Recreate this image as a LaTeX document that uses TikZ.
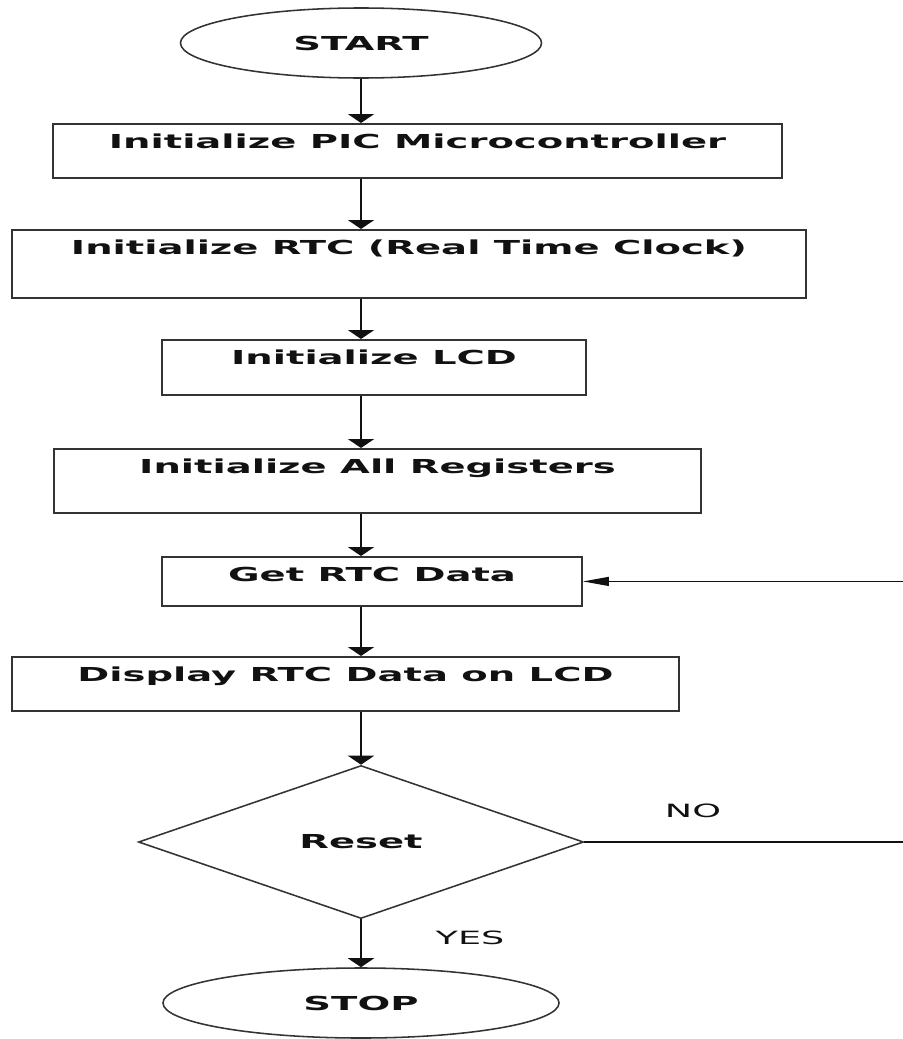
\documentclass[tikz,border=0pt]{standalone}
\usepackage{fontspec}
\usepackage{tikz}
\usetikzlibrary{arrows.meta,shapes.geometric,calc}
\newfontfamily\flowfont[FakeStretch=2.0]{DejaVu Sans}
\definecolor{ink}{HTML}{111111}
\definecolor{frame}{HTML}{333333}

\begin{document}
\begin{tikzpicture}[x=0.025cm, y=-0.025cm,
  every node/.style={font=\flowfont\fontsize{13.7pt}{16pt}\selectfont\bfseries, text=ink},
  stepbox/.style={draw=frame, line width=1.3pt, rectangle, inner sep=0pt, anchor=north, text height=0.625cm},
  terminal/.style={draw=frame, line width=1.1pt, ellipse, inner sep=0pt, minimum height=1.75cm},
  decision/.style={draw=frame, line width=1.1pt, diamond, aspect=2.9, inner sep=0pt, minimum width=11.125cm, minimum height=3.825cm},
  answer/.style={font=\flowfont\fontsize{13pt}{15pt}\selectfont},
  down/.style={draw=ink, line width=1.6pt, -{Triangle[length=6.4pt, width=18.5pt]}},
  back/.style={draw=ink, line width=0.9pt, -{Triangle[length=18.5pt, width=6.4pt]}}]
\useasboundingbox (0,0) rectangle (902,1039);
\node[terminal, minimum width=9.025cm] (start) at (361,43) {START};
\node[stepbox, minimum width=18.225cm, text depth=0.725cm] (initpic) at (417.5,123) {Initialize PIC Microcontroller};
\node[stepbox, minimum width=19.85cm, text depth=1.075cm] (initrtc) at (409,229) {Initialize RTC (Real Time Clock)};
\node[stepbox, minimum width=10.6cm, text depth=0.75cm] (initlcd) at (374,339) {Initialize LCD};
\node[stepbox, minimum width=16.175cm, text depth=0.975cm] (initreg) at (377.5,448) {Initialize All Registers};
\node[stepbox, minimum width=10.5cm, text depth=0.6cm] (getrtc) at (372,556) {Get RTC Data};
\node[stepbox, minimum width=16.675cm, text depth=0.725cm] (showrtc) at (345.5,656) {Display RTC Data on LCD};
\node[decision] (reset) at (361,842) {Reset};
\node[terminal, minimum width=9.9cm] (stop) at (361,1003) {STOP};
\node[answer] (nolabel) at (693,811) {NO};
\node[answer] (yeslabel) at (470,938) {YES};
\coordinate (loopR) at (912,842);
% main column
\draw[down] (start.south) -- (initpic.north -| start);
\draw[down] (initpic.south -| start) -- (initrtc.north -| start);
\draw[down] (initrtc.south -| start) -- (initlcd.north -| start);
\draw[down] (initlcd.south -| start) -- (initreg.north -| start);
\draw[down] (initreg.south -| start) -- (getrtc.north -| start);
\draw[down] (getrtc.south -| start) -- (showrtc.north -| start);
\draw[down] (showrtc.south -| start) -- (reset.north);
\draw[down] (reset.south) -- (stop.north);
% NO branch back to Get RTC Data
\draw[back] (reset.east) -- (loopR) |- (getrtc.east);
\end{tikzpicture}
\end{document}
